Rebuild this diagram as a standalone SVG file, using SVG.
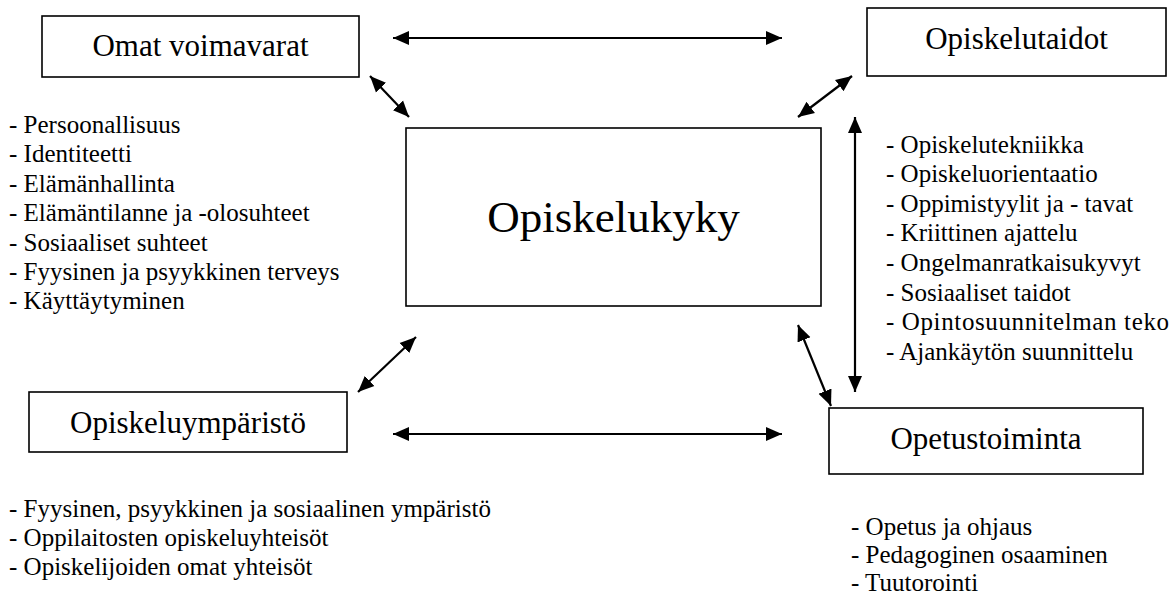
<svg xmlns="http://www.w3.org/2000/svg" width="1175" height="601" viewBox="0 0 1175 601" font-family="'Liberation Serif', 'DejaVu Serif', serif">
<style>
  .box { fill: #ffffff; stroke: #000000; stroke-width: 1.6; }
  .lbl { font-size: 31px; fill: #000000; text-anchor: middle; }
  .big { font-size: 45px; fill: #000000; text-anchor: middle; }
  .lst { font-size: 25px; fill: #000000; }
  .arr { stroke: #000000; stroke-width: 2.2; fill: none; marker-start: url(#ah); marker-end: url(#ah); }
</style>
<defs>
  <marker id="ah" markerUnits="userSpaceOnUse" markerWidth="17" markerHeight="15" refX="16" refY="7.5" orient="auto-start-reverse" viewBox="0 0 17 15">
    <path d="M0,0.5 L16,7.5 L0,14.5 z" fill="#000000"/>
  </marker>
</defs>
<rect width="1175" height="601" fill="#ffffff"/>

<g id="connectors">
  <line class="arr" x1="393" y1="38" x2="782" y2="38"/>
  <line class="arr" x1="393" y1="434" x2="782" y2="434"/>
  <line class="arr" x1="370" y1="76" x2="409" y2="117"/>
  <line class="arr" x1="852" y1="76" x2="798" y2="117"/>
  <line class="arr" x1="855" y1="117" x2="855" y2="392"/>
  <line class="arr" x1="798" y1="325" x2="831" y2="406"/>
  <line class="arr" x1="416" y1="337" x2="358" y2="392"/>
</g>

<g id="node-omat-voimavarat">
  <rect class="box" x="42" y="16" width="317" height="61"/>
  <text class="lbl" x="200.5" y="56">Omat voimavarat</text>
</g>

<g id="node-opiskelutaidot">
  <rect class="box" x="867" y="8" width="299" height="68"/>
  <text class="lbl" x="1016.5" y="49">Opiskelutaidot</text>
</g>

<g id="node-opiskelukyky">
  <rect class="box" x="406" y="128" width="415" height="178"/>
  <text class="big" x="613.5" y="232">Opiskelukyky</text>
</g>

<g id="node-opiskeluymparisto">
  <rect class="box" x="29" y="392" width="318" height="60"/>
  <text class="lbl" x="188" y="433">Opiskeluympäristö</text>
</g>

<g id="node-opetustoiminta">
  <rect class="box" x="829" y="408" width="314" height="66"/>
  <text class="lbl" x="986" y="449">Opetustoiminta</text>
</g>

<g id="list-omat-voimavarat">
  <text class="lst" x="9" y="133">- Persoonallisuus</text>
  <text class="lst" x="9" y="162">- Identiteetti</text>
  <text class="lst" x="9" y="191.5">- Elämänhallinta</text>
  <text class="lst" x="9" y="221">- Elämäntilanne ja -olosuhteet</text>
  <text class="lst" x="9" y="250.5">- Sosiaaliset suhteet</text>
  <text class="lst" x="9" y="280">- Fyysinen ja psyykkinen terveys</text>
  <text class="lst" x="9" y="309">- Käyttäytyminen</text>
</g>

<g id="list-opiskelutaidot">
  <text class="lst" x="886" y="152.5">- Opiskelutekniikka</text>
  <text class="lst" x="886" y="182">- Opiskeluorientaatio</text>
  <text class="lst" x="886" y="211.5">- Oppimistyylit ja - tavat</text>
  <text class="lst" x="886" y="241">- Kriittinen ajattelu</text>
  <text class="lst" x="886" y="271">- Ongelmanratkaisukyvyt</text>
  <text class="lst" x="886" y="300.5">- Sosiaaliset taidot</text>
  <text class="lst" x="886" y="330" textLength="283" lengthAdjust="spacing">- Opintosuunnitelman teko</text>
  <text class="lst" x="886" y="359.5">- Ajankäytön suunnittelu</text>
</g>

<g id="list-opiskeluymparisto">
  <text class="lst" x="9" y="517">- Fyysinen, psyykkinen ja sosiaalinen ympäristö</text>
  <text class="lst" x="9" y="546">- Oppilaitosten opiskeluyhteisöt</text>
  <text class="lst" x="9" y="575">- Opiskelijoiden omat yhteisöt</text>
</g>

<g id="list-opetustoiminta">
  <text class="lst" x="851" y="535">- Opetus ja ohjaus</text>
  <text class="lst" x="851" y="563">- Pedagoginen osaaminen</text>
  <text class="lst" x="851" y="591">- Tuutorointi</text>
</g>
</svg>
